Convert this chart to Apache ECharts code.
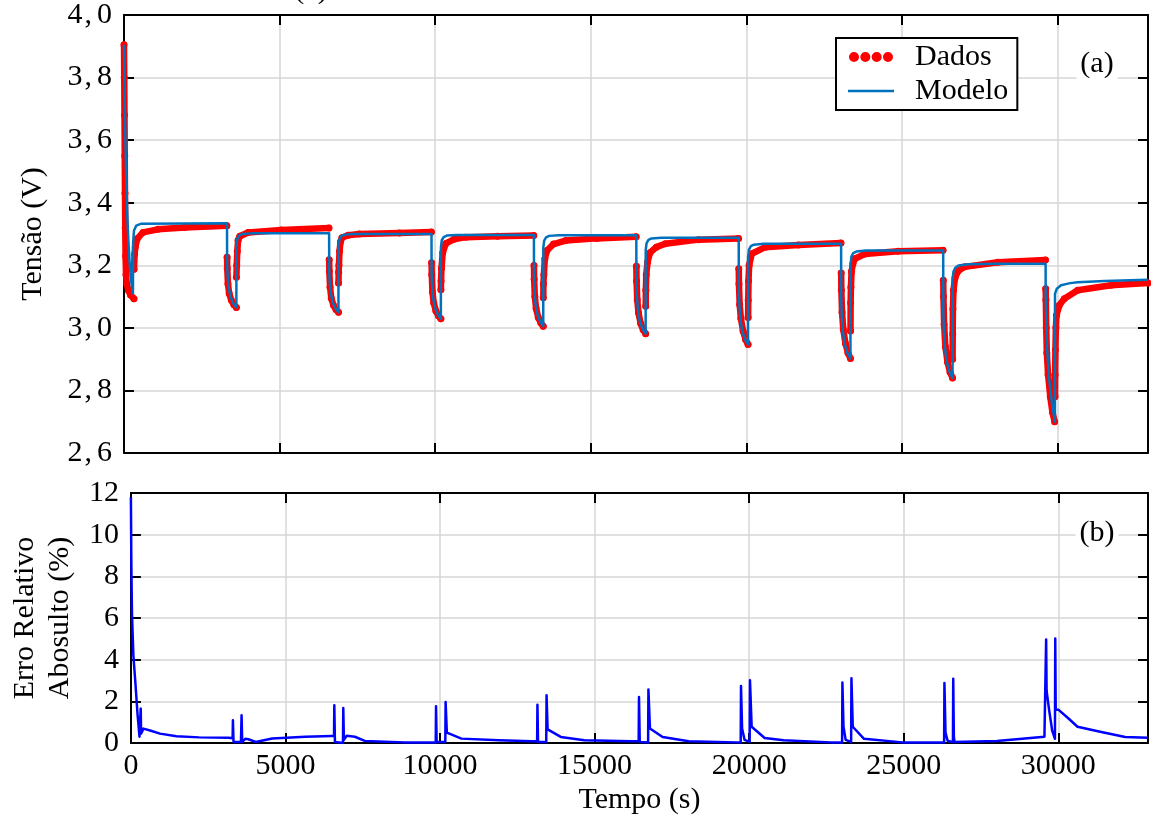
<!DOCTYPE html>
<html>
<head>
<meta charset="utf-8">
<script src="https://cdn.jsdelivr.net/npm/echarts@6/dist/echarts.min.js"></script>
<style>
  html, body { margin: 0; padding: 0; background: #fff; }
  #chart { width: 1151px; height: 820px; }
</style>
</head>
<body>
<div id="chart"></div>
<script>
// Pulse discharge test: measured terminal voltage (Dados) vs. equivalent-circuit model (Modelo)
// null entries in dadosTensao mark sampling gaps across the current steps.
const dadosTempo = [
  0, 8, 16, 24, 32, 40, 50, 65, 90, 140, 210, 320, 321,
  322, 340, 362, 426, 609, 1090, 1950, 3305, 3308,
  3312, 3318, 3340, 3380, 3450, 3530, 3610, 3611,
  3612, 3622, 3640, 3665, 3720, 3985, 5055, 6585, 6588,
  6592, 6598, 6620, 6660, 6730, 6810, 6890, 6891,
  6892, 6896, 6905, 6925, 6955, 7000, 7200, 7560, 8850, 9875, 9878,
  9882, 9888, 9910, 9950, 10020, 10100, 10180, 10181,
  10182, 10186, 10200, 10240, 10340, 10600, 10980, 12000, 13165, 13168,
  13172, 13178, 13200, 13240, 13310, 13390, 13470, 13471,
  13472, 13476, 13490, 13520, 13590, 13800, 14190, 15200, 16455, 16458,
  16462, 16468, 16490, 16530, 16600, 16680, 16760, 16761,
  16762, 16766, 16780, 16820, 16900, 17100, 17390, 18460, 19745, 19748,
  19752, 19758, 19780, 19820, 19890, 19970, 20050, 20051,
  20052, 20056, 20065, 20085, 20170, 20600, 21670, 23035, 23038,
  23042, 23048, 23070, 23110, 23180, 23260, 23340, 23341,
  23342, 23346, 23355, 23375, 23420, 23480, 23800, 24870, 26315, 26318,
  26322, 26328, 26350, 26390, 26460, 26540, 26620, 26621,
  26622, 26626, 26632, 26650, 26700, 26800, 27010, 28075, 29605, 29608,
  29612, 29618, 29630, 29650, 29690, 29760, 29830, 29900, 29905,
  29912, 29916, 29925, 29940, 29960, 30050, 30210, 30640, 31710, 32900
];
const dadosTensao = [
  3.905, 3.80, 3.68, 3.55, 3.43, 3.32, 3.23, 3.17, 3.14, 3.12, 3.105, 3.093, null,
  3.187, 3.235, 3.258, 3.285, 3.305, 3.315, 3.321, 3.326, null,
  3.226, 3.19, 3.14, 3.11, 3.088, 3.074, 3.065, null,
  3.162, 3.20, 3.245, 3.28, 3.293, 3.305, 3.313, 3.319, null,
  3.218, 3.18, 3.13, 3.095, 3.072, 3.059, 3.050, null,
  3.143, 3.178, 3.20, 3.245, 3.275, 3.288, 3.296, 3.300, 3.303, 3.306, null,
  3.208, 3.17, 3.115, 3.08, 3.054, 3.039, 3.029, null,
  3.122, 3.15, 3.19, 3.24, 3.27, 3.283, 3.29, 3.293, 3.295, null,
  3.199, 3.155, 3.10, 3.062, 3.033, 3.016, 3.005, null,
  3.096, 3.14, 3.17, 3.22, 3.247, 3.268, 3.279, 3.286, 3.291, null,
  3.197, 3.15, 3.09, 3.048, 3.014, 2.994, 2.981, null,
  3.069, 3.12, 3.17, 3.21, 3.24, 3.258, 3.269, 3.282, 3.286, null,
  3.189, 3.14, 3.075, 3.03, 2.99, 2.963, 2.947, null,
  3.033, 3.088, 3.15, 3.20, 3.237, 3.258, 3.265, 3.271, null,
  3.175, 3.12, 3.05, 2.995, 2.95, 2.92, 2.902, null,
  2.99, 3.08, 3.13, 3.18, 3.205, 3.221, 3.236, 3.245, 3.248, null,
  3.152, 3.10, 3.01, 2.94, 2.89, 2.858, 2.840, null,
  2.90, 2.98, 3.06, 3.12, 3.16, 3.182, 3.195, 3.21, 3.217, null,
  3.125, 3.09, 3.00, 2.92, 2.85, 2.78, 2.73, 2.70, null,
  2.78, 2.85, 2.93, 3.00, 3.04, 3.072, 3.093, 3.12, 3.136, 3.143
];

const modeloTempo = [
  0, 20, 45, 74, 106, 140, 183, 230, 288,
  292, 320, 395, 555, 3310,
  3313, 3330, 3360, 3420, 3510, 3610,
  3612, 3640, 3700, 3800, 4110, 6590,
  6593, 6610, 6640, 6700, 6790, 6890,
  6892, 6920, 6980, 7080, 7390, 9880,
  9883, 9900, 9930, 9990, 10080, 10180,
  10182, 10210, 10270, 10370, 10680, 13170,
  13173, 13190, 13220, 13280, 13370, 13470,
  13472, 13500, 13560, 13660, 13970, 16460,
  16463, 16480, 16510, 16570, 16660, 16760,
  16762, 16790, 16850, 16950, 17260, 19750,
  19753, 19770, 19800, 19860, 19950, 20050,
  20052, 20080, 20140, 20240, 20550, 23040,
  23043, 23060, 23090, 23150, 23240, 23340,
  23342, 23370, 23430, 23530, 23840, 26320,
  26323, 26340, 26370, 26430, 26520, 26620,
  26622, 26650, 26710, 26810, 27120, 28000, 29610,
  29613, 29630, 29660, 29720, 29810, 29910,
  29912, 29970, 30105, 30400, 30640, 31500, 32900
];
const modeloTensao = [
  3.905, 3.75, 3.60, 3.47, 3.36, 3.28, 3.205, 3.15, 3.11,
  3.27, 3.31, 3.327, 3.333, 3.334,
  3.205, 3.167, 3.132, 3.100, 3.078, 3.065,
  3.262, 3.285, 3.295, 3.300, 3.302, 3.302,
  3.181, 3.146, 3.113, 3.083, 3.063, 3.050,
  3.260, 3.283, 3.293, 3.298, 3.300, 3.300,
  3.170, 3.132, 3.097, 3.064, 3.043, 3.029,
  3.257, 3.280, 3.290, 3.295, 3.297, 3.297,
  3.157, 3.116, 3.078, 3.043, 3.020, 3.005,
  3.256, 3.279, 3.289, 3.294, 3.296, 3.296,
  3.145, 3.101, 3.060, 3.022, 2.997, 2.981,
  3.248, 3.271, 3.281, 3.286, 3.288, 3.288,
  3.124, 3.077, 3.032, 2.991, 2.964, 2.947,
  3.225, 3.250, 3.261, 3.266, 3.269, 3.269,
  3.093, 3.041, 2.994, 2.950, 2.920, 2.902,
  3.200, 3.228, 3.239, 3.244, 3.247, 3.247,
  3.052, 2.995, 2.942, 2.893, 2.860, 2.840,
  3.155, 3.180, 3.192, 3.199, 3.203, 3.205, 3.205,
  3.10, 3.02, 2.93, 2.84, 2.76, 2.70,
  3.109, 3.125, 3.136, 3.143, 3.146, 3.150, 3.154
];

// Absolute relative error between data and model (%)
const erroTempo = [
  0, 15, 35, 80, 140, 214, 278, 300, 318, 330, 405, 620, 940, 1475, 2210, 3170,
  3290, 3300, 3320, 3560, 3580, 3600, 3700, 3800, 4040, 4570, 5640, 6500,
  6570, 6580, 6600, 6860, 6870, 6890, 6980, 7245, 7565, 8850,
  9860, 9870, 9890, 10170, 10180, 10220, 10300, 10690, 11910, 12980,
  13140, 13150, 13170, 13435, 13445, 13480, 13905, 14670, 16200,
  16425, 16435, 16460, 16730, 16740, 16790, 17200, 18045, 19580,
  19725, 19735, 19770, 19850, 20015, 20025, 20080, 20500, 21115, 22645,
  23005, 23015, 23050, 23120, 23297, 23307, 23350, 23715, 24950,
  26305, 26315, 26350, 26420, 26590, 26600, 26620, 26640, 28010, 29550,
  29595, 29605, 29620, 29700, 29800, 29890, 29900, 29915, 30000, 30320, 30620, 31390, 32160, 32900
];
const erroValor = [
  11.8, 8.5, 6.2, 4.2, 3.0, 1.4, 0.3, 0.25, 1.65, 0.45, 0.69, 0.6, 0.45, 0.32, 0.27, 0.25,
  0.23, 1.09, 0.05, 0.05, 1.33, 0.05, 0.2, 0.18, 0.05, 0.22, 0.3, 0.34,
  0.34, 1.81, 0.05, 0.0, 1.68, 0.15, 0.35, 0.3, 0.1, 0.03,
  0.03, 1.76, 0.05, 0.05, 1.97, 0.5, 0.45, 0.21, 0.13, 0.08,
  0.08, 1.84, 0.05, 0.05, 2.29, 0.65, 0.29, 0.13, 0.08,
  0.08, 2.21, 0.05, 0.03, 2.57, 0.7, 0.29, 0.08, 0.03,
  0.03, 2.74, 0.7, 0.15, 0.05, 3.01, 0.78, 0.24, 0.13, 0.03,
  0.03, 2.9, 0.8, 0.15, 0.05, 3.11, 0.78, 0.2, 0.03,
  0.03, 2.88, 0.5, 0.1, 0.05, 3.08, 0.3, 0.05, 0.1, 0.3,
  0.3, 4.97, 2.5, 1.6, 0.6, 0.2, 5.02, 1.6, 1.6, 1.19, 0.78, 0.53, 0.29, 0.25
];

const tempoMax = 32900;
const tempoTicks = 5000;
const tensaoMin = 2.6, tensaoMax = 4.0, tensaoPasso = 0.2;
const erroMin = 0, erroMax = 12, erroPasso = 2;

const pair = (xs, ys) => xs.map((x, i) => [x, ys[i]]);

const FONT = '"Liberation Serif", "Times New Roman", serif';
const GRID_COLOR = '#d6d6d6';

function xAxisCfg(gridIndex, position, labels) {
  return {
    type: 'value', gridIndex, position,
    min: 0, max: tempoMax, interval: tempoTicks,
    axisLine: { show: true, onZero: false, lineStyle: { color: '#000', width: 2 } },
    axisTick: { show: true, inside: true, length: 10, lineStyle: { color: '#000', width: 2 } },
    axisLabel: {
      show: labels, showMaxLabel: false, margin: 8,
      fontFamily: FONT, fontSize: 30, color: '#000',
      formatter: v => String(v)
    },
    splitLine: { show: position === 'bottom', lineStyle: { color: GRID_COLOR, width: 1.5 } }
  };
}

function yAxisCfg(gridIndex, position, min, max, step, fmt, extra) {
  return Object.assign({
    type: 'value', gridIndex, position,
    min, max, interval: step,
    axisLine: { show: true, onZero: false, lineStyle: { color: '#000', width: 2 } },
    axisTick: { show: true, inside: true, length: 10, lineStyle: { color: '#000', width: 2 } },
    axisLabel: {
      show: position === 'left', margin: 12,
      fontFamily: FONT, fontSize: 30, color: '#000',
      formatter: fmt,
      rich: { sep: { fontFamily: FONT, fontSize: 30, color: '#000', padding: [0, 5, 0, 2] } }
    },
    splitLine: { show: position === 'left', lineStyle: { color: GRID_COLOR, width: 1.5 } }
  }, extra || {});
}

// decimal comma followed by a thin gap, as in typeset math
const fmtTensao = v => {
  const [a, b] = v.toFixed(1).split('.');
  return a + '{sep|,}' + b;
};

const chart = echarts.init(document.getElementById('chart'), null, { renderer: 'canvas' });

// legend glyphs: a row of four dots for the measured data, a plain stroke for the model
const dotsIcon = 'path://M0,5a5,5 0 1,0 10,0a5,5 0 1,0 -10,0' +
  'M11.33,5a5,5 0 1,0 10,0a5,5 0 1,0 -10,0' +
  'M22.67,5a5,5 0 1,0 10,0a5,5 0 1,0 -10,0' +
  'M34,5a5,5 0 1,0 10,0a5,5 0 1,0 -10,0';
const strokeIcon = 'path://M0,0L46,0L46,2.6L0,2.6Z';

chart.setOption({
  animation: false,
  backgroundColor: '#fff',
  textStyle: { fontFamily: FONT },
  grid: [
    { left: 124, right: 3, top: 14, height: 439 },
    { left: 124, right: 3, top: 493, height: 250 }
  ],
  xAxis: [
    xAxisCfg(0, 'bottom', false),
    xAxisCfg(0, 'top', false),
    Object.assign(xAxisCfg(1, 'bottom', true), {
      name: 'Tempo (s)', nameLocation: 'middle', nameGap: 42,
      nameTextStyle: { fontFamily: FONT, fontSize: 30, color: '#000' }
    }),
    xAxisCfg(1, 'top', false)
  ],
  yAxis: [
    yAxisCfg(0, 'left', tensaoMin, tensaoMax, tensaoPasso, fmtTensao,
      { name: 'Tensão (V)', nameLocation: 'middle', nameGap: 76, nameRotate: 90,
        nameTextStyle: { fontFamily: FONT, fontSize: 30, color: '#000' } }),
    yAxisCfg(0, 'right', tensaoMin, tensaoMax, tensaoPasso, v => ''),
    yAxisCfg(1, 'left', erroMin, erroMax, erroPasso,
      v => String(Math.round(v)),
      { name: 'Erro Relativo\nAbosulto (%)', nameLocation: 'middle', nameGap: 52, nameRotate: 90,
        nameTextStyle: { fontFamily: FONT, fontSize: 30, color: '#000', lineHeight: 35, align: 'center' } }),
    yAxisCfg(1, 'right', erroMin, erroMax, erroPasso, v => '')
  ],
  legend: {
    orient: 'vertical',
    left: 836, top: 38,
    padding: [3, 9, 3, 12],
    itemGap: 2,
    itemWidth: 46, itemHeight: 10,
    symbolKeepAspect: true,
    borderColor: '#000', borderWidth: 2, borderRadius: 0,
    backgroundColor: '#fff',
    selectedMode: false,
    textStyle: { fontFamily: FONT, fontSize: 30, color: '#000', lineHeight: 32, padding: [0, 0, 0, 16] },
    data: [
      { name: 'Dados', icon: dotsIcon, itemStyle: { color: '#ff0000', borderWidth: 0 } },
      { name: 'Modelo', icon: strokeIcon, itemStyle: { color: '#0072bd', borderWidth: 0 } }
    ]
  },
  graphic: [
    { type: 'text', z: 100, x: 1097, y: 64,
      style: { text: '(a)', font: '30px ' + FONT, fill: '#000', align: 'center', verticalAlign: 'middle',
               backgroundColor: '#fff', padding: [0, 4] } },
    { type: 'text', z: 100, x: 1097, y: 533,
      style: { text: '(b)', font: '30px ' + FONT, fill: '#000', align: 'center', verticalAlign: 'middle',
               backgroundColor: '#fff', padding: [0, 4] } },
    { type: 'text', z: 100, x: 311, y: 5,
      style: { text: '(a)', font: '30px ' + FONT, fill: '#000', align: 'center', verticalAlign: 'bottom' } }
  ],
  series: [
    {
      name: 'Dados', type: 'line', xAxisIndex: 0, yAxisIndex: 0,
      data: pair(dadosTempo, dadosTensao),
      connectNulls: false,
      symbol: 'circle', symbolSize: 7, showSymbol: true, showAllSymbol: true,
      itemStyle: { color: '#ff0000' },
      lineStyle: { color: '#ff0000', width: 6.5, cap: 'round', join: 'round' },
      silent: true, z: 2
    },
    {
      name: 'Modelo', type: 'line', xAxisIndex: 0, yAxisIndex: 0,
      data: pair(modeloTempo, modeloTensao),
      symbol: 'none', showSymbol: false,
      itemStyle: { color: '#0072bd' },
      lineStyle: { color: '#0072bd', width: 2.5, join: 'round' },
      silent: true, z: 3
    },
    {
      name: 'Erro', type: 'line', xAxisIndex: 2, yAxisIndex: 2,
      data: pair(erroTempo, erroValor),
      symbol: 'none', showSymbol: false,
      itemStyle: { color: '#0000ff' },
      lineStyle: { color: '#0000ff', width: 2.5, join: 'round' },
      silent: true, z: 3
    }
  ]
});
</script>
</body>
</html>
